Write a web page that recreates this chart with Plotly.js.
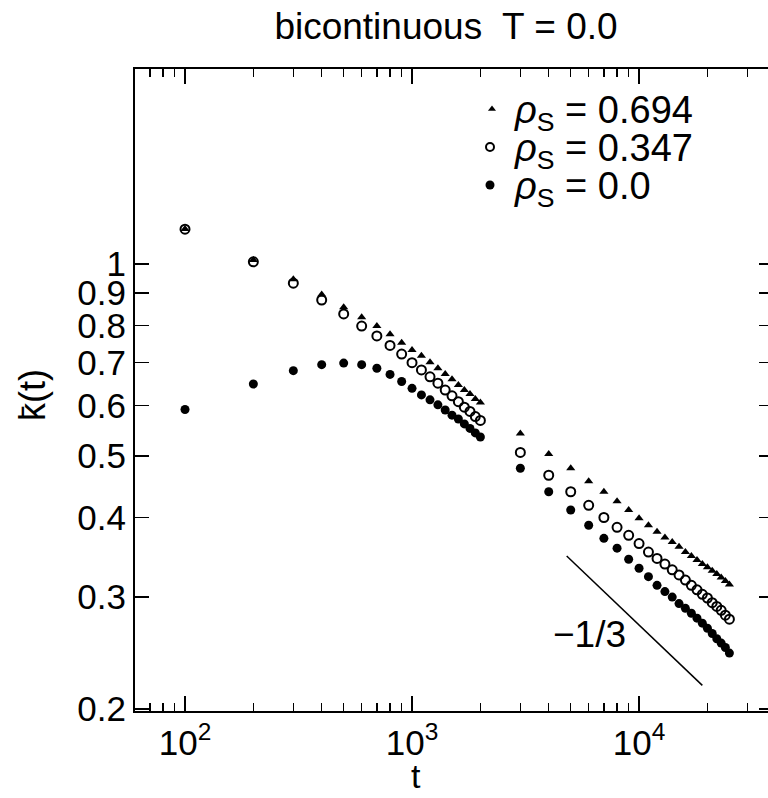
<!DOCTYPE html>
<html>
<head>
<meta charset="utf-8">
<script src="https://cdn.plot.ly/plotly-3.0.1.min.js"></script>
<style>
html,body{margin:0;padding:0;overflow:hidden;background:#fff;}
#chart{width:773px;height:798px;}
</style>
</head>
<body>
<div id="chart"></div>
<script>
// ---- data ----
const tValues = [100,200,300,400,500,600,700,800,900,1000,1100,1200,1300,1400,1500,1600,1700,1800,1900,2000,
  3000,4000,5000,6000,7000,8000,9000,10000,11000,12000,13000,14000,15000,16000,17000,18000,19000,20000,21000,22000,23000,24000,25000];
const kRho0694 = [1.135,1.015,0.946,0.896,0.855,0.825,0.799,0.776,0.752,0.733,0.718,0.701,0.686,0.672,0.659,0.646,0.634,0.625,0.614,0.606,
  0.542,0.503,0.478,0.456,0.439,0.424,0.411,0.399,0.389,0.380,0.372,0.366,0.360,0.353,0.348,0.343,0.338,0.334,0.330,0.326,0.322,0.318,0.314];
const kRho0347 = [1.134,1.008,0.933,0.878,0.835,0.799,0.771,0.745,0.722,0.700,0.682,0.665,0.650,0.634,0.621,0.608,0.596,0.587,0.576,0.568,
  0.506,0.466,0.439,0.418,0.400,0.386,0.375,0.364,0.353,0.345,0.338,0.331,0.325,0.319,0.313,0.308,0.303,0.299,0.294,0.290,0.286,0.281,0.277];
const kRho00 = [0.591,0.648,0.680,0.695,0.699,0.695,0.686,0.671,0.654,0.638,0.623,0.612,0.601,0.590,0.579,0.571,0.561,0.552,0.543,0.535,
  0.478,0.439,0.411,0.389,0.371,0.358,0.344,0.333,0.323,0.313,0.306,0.300,0.293,0.288,0.283,0.278,0.273,0.268,0.263,0.258,0.254,0.250,0.245];
const seriesNames = ['<i>ρ</i><sub>S</sub> = 0.694','<i>ρ</i><sub>S</sub> = 0.347','<i>ρ</i><sub>S</sub> = 0.0'];
const slopeLineT = [4800, 19000];
const slopeLineK = [0.348, 0.218];
const slopeLabel = '\u22121/3';
const xTickVals = [100, 1000, 10000];
const xTickText = ['10<sup>2</sup>','10<sup>3</sup>','10<sup>4</sup>'];
const xMinorVals = [60,70,80,90,200,300,400,500,600,700,800,900,2000,3000,4000,5000,6000,7000,8000,9000,20000,30000];
const yTickVals = [0.2,0.3,0.4,0.5,0.6,0.7,0.8,0.9,1];
const yTickText = ['0.2','0.3','0.4','0.5','0.6','0.7','0.8','0.9','1'];
const titleText = 'bicontinuous  T = 0.0';
const xTitle = 't';
const yTitle = 'k\u0304(t)';

const FONT = 'Liberation Sans, Arial, Helvetica, sans-serif';

// plot-area geometry in page pixels
const L = 135, R = 773, T = 69, B = 711;
const px2x = p => (p - L) / (R - L);
const py2y = p => (B - p) / (B - T);

// legend placement (page pixels)
const legSymX = [492, 490, 490];
const legRowY = [109, 147, 185];
const legTextX = 512;

const traces = [
  {x: tValues, y: kRho0694, name: seriesNames[0], type: 'scatter', mode: 'markers',
   marker: {symbol: 'triangle-up', size: 8, color: '#000'}},
  {x: tValues, y: kRho0347, name: seriesNames[1], type: 'scatter', mode: 'markers',
   marker: {symbol: 'circle-open', size: 9, color: '#000', line: {width: 2, color: '#000'}}},
  {x: tValues, y: kRho00, name: seriesNames[2], type: 'scatter', mode: 'markers',
   marker: {symbol: 'circle', size: 9, color: '#000'}},
  {x: slopeLineT, y: slopeLineK, type: 'scatter', mode: 'lines', showlegend: false,
   line: {color: '#000', width: 1.5}},
  // legend symbols on an overlay axis measured in page pixels
  {x: [legSymX[0]], y: [legRowY[0]], xaxis: 'x2', yaxis: 'y2', type: 'scatter', mode: 'markers', showlegend: false,
   marker: {symbol: 'triangle-up', size: 7, color: '#000'}},
  {x: [legSymX[1]], y: [legRowY[1]], xaxis: 'x2', yaxis: 'y2', type: 'scatter', mode: 'markers', showlegend: false,
   marker: {symbol: 'circle-open', size: 8, color: '#000', line: {width: 2, color: '#000'}}},
  {x: [legSymX[2]], y: [legRowY[2]], xaxis: 'x2', yaxis: 'y2', type: 'scatter', mode: 'markers', showlegend: false,
   marker: {symbol: 'circle', size: 9, color: '#000'}}
];

const annotations = [
  {text: slopeLabel, x: Math.log10(6050), y: Math.log10(0.262), xref: 'x', yref: 'y',
   showarrow: false, font: {family: FONT, size: 37, color: '#000'}},
  {text: xTitle, x: px2x(416), y: py2y(797), xref: 'paper', yref: 'paper', yanchor: 'bottom',
   showarrow: false, font: {family: FONT, size: 34, color: '#000'}},
  {text: yTitle, x: px2x(33), y: py2y(395), xref: 'paper', yref: 'paper', xanchor: 'center', yanchor: 'middle',
   textangle: -90, showarrow: false, font: {family: FONT, size: 36, color: '#000'}}
];
// legend texts
seriesNames.forEach((txt, i) => annotations.push(
  {text: txt, x: px2x(legTextX), y: py2y(legRowY[i] + 4), xref: 'paper', yref: 'paper', xanchor: 'left', yanchor: 'middle',
   showarrow: false, font: {family: FONT, size: 38, color: '#000'}}));

const layout = {
  width: 773, height: 798,
  margin: {l: L, r: 773 - R, t: T, b: 798 - B, pad: 0},
  paper_bgcolor: '#fff', plot_bgcolor: '#fff',
  font: {family: FONT, color: '#000', size: 32},
  showlegend: false,
  title: {text: titleText, font: {family: FONT, size: 37, color: '#000'},
          x: 446/773, xref: 'container', xanchor: 'center', y: 1 - 26/798, yref: 'container', yanchor: 'middle'},
  xaxis: {type: 'log', range: [1.7797, 4.590], showgrid: false, zeroline: false,
          showline: true, linecolor: '#000', linewidth: 2, mirror: 'ticks',
          ticks: 'inside', ticklen: 15, tickwidth: 1.5, tickcolor: '#000',
          tickmode: 'array', tickvals: xTickVals, ticktext: xTickText,
          tickfont: {family: FONT, size: 35, color: '#000'},
          minor: {tickmode: 'array', tickvals: xMinorVals, ticks: 'inside', ticklen: 8, tickwidth: 1.5, tickcolor: '#000', showgrid: false}},
  yaxis: {type: 'log', range: [-(B - 264) / 637, (264 - T) / 637], showgrid: false, zeroline: false,
          showline: true, linecolor: '#000', linewidth: 2, mirror: 'ticks',
          ticks: 'inside', ticklen: 14, tickwidth: 1.5, tickcolor: '#000',
          tickmode: 'array', tickvals: yTickVals, ticktext: yTickText,
          tickfont: {family: FONT, size: 35, color: '#000'}},
  xaxis2: {overlaying: 'x', anchor: 'y2', range: [L, R], visible: false, showgrid: false, zeroline: false},
  yaxis2: {overlaying: 'y', anchor: 'x2', range: [B, T], visible: false, showgrid: false, zeroline: false},
  annotations: annotations
};

Plotly.newPlot('chart', traces, layout, {displayModeBar: false, staticPlot: true});
</script>
</body>
</html>
